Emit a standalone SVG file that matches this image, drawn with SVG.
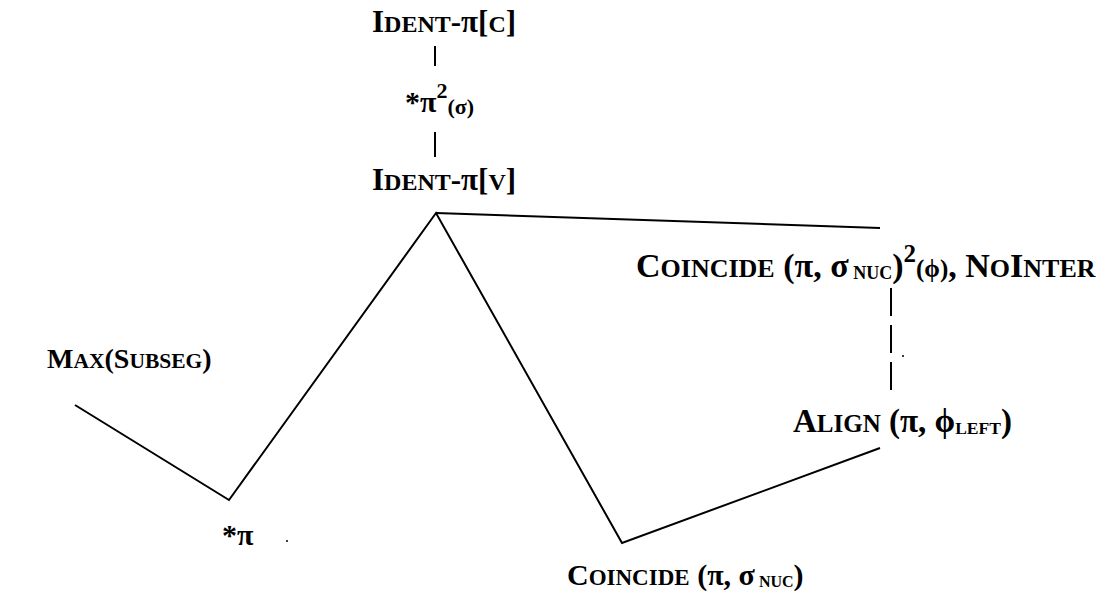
<svg xmlns="http://www.w3.org/2000/svg" width="1101" height="594" viewBox="0 0 1101 594">
<style>
text{font-family:"Liberation Serif","Times New Roman",serif;font-weight:bold;fill:#000;font-size:30px}
.sc{font-size:23px}
.sub{font-size:16px}
.sm{font-size:22px}
line,polyline{stroke:#000;stroke-width:2;fill:none}
</style>
<rect width="1101" height="594" fill="#fff"/>
<g id="connectors">
<polyline points="75,405 229,500 436,213 622,543 880,448"/>
<line x1="436" y1="213" x2="880" y2="228"/>
<line x1="891" y1="288" x2="891" y2="316" stroke-width="1.5"/>
<line x1="891" y1="325" x2="891" y2="353" stroke-width="1.5"/>
<line x1="891" y1="362" x2="891" y2="390" stroke-width="1.5"/>
<line x1="435" y1="46" x2="435" y2="66" stroke-width="1.5"/>
<line x1="435" y1="132" x2="435" y2="157"/>
<circle cx="287" cy="541" r="1" fill="#000"/>
<circle cx="903" cy="356" r="1" fill="#000"/>
</g>
<g id="ident-c"><text x="372" y="32" style="font-size:31px">I<tspan style="font-size:24px">DENT</tspan>-π[<tspan style="font-size:24px">C</tspan>]</text></g>
<g id="star-pi2"><text x="405" y="112">*π<tspan class="sm" dy="-14">2</tspan><tspan class="sm" dy="16">(σ)</tspan></text></g>
<g id="ident-v"><text x="372" y="190" style="font-size:31px">I<tspan style="font-size:24px">DENT</tspan>-π[<tspan style="font-size:24px">V</tspan>]</text></g>
<g id="coincide-top"><text x="636" y="277" style="font-size:34px">C<tspan style="font-size:26px">OINCIDE</tspan> (π, σ<tspan style="font-size:18px" dy="2"> NUC</tspan><tspan dy="-2">)</tspan><tspan style="font-size:25px" dy="-15">2</tspan><tspan style="font-size:25px" dy="15">(ϕ)</tspan>, N<tspan style="font-size:26px">O</tspan>I<tspan style="font-size:26px">NTER</tspan></text></g>
<g id="align"><text x="793" y="432" style="font-size:33px">A<tspan style="font-size:25px">LIGN</tspan> (π, ϕ<tspan style="font-size:17.5px" dy="2">LEFT</tspan><tspan dy="-2">)</tspan></text></g>
<g id="max"><text x="47" y="368" style="font-size:28px">M<tspan style="font-size:21.5px">AX</tspan>(S<tspan style="font-size:21.5px">UBSEG</tspan>)</text></g>
<g id="star-pi"><text x="222" y="545">*π</text></g>
<g id="coincide-bot"><text x="567" y="585">C<tspan class="sc">OINCIDE</tspan> (π, σ<tspan class="sub" dy="2"> NUC</tspan><tspan dy="-2">)</tspan></text></g>
</svg>
